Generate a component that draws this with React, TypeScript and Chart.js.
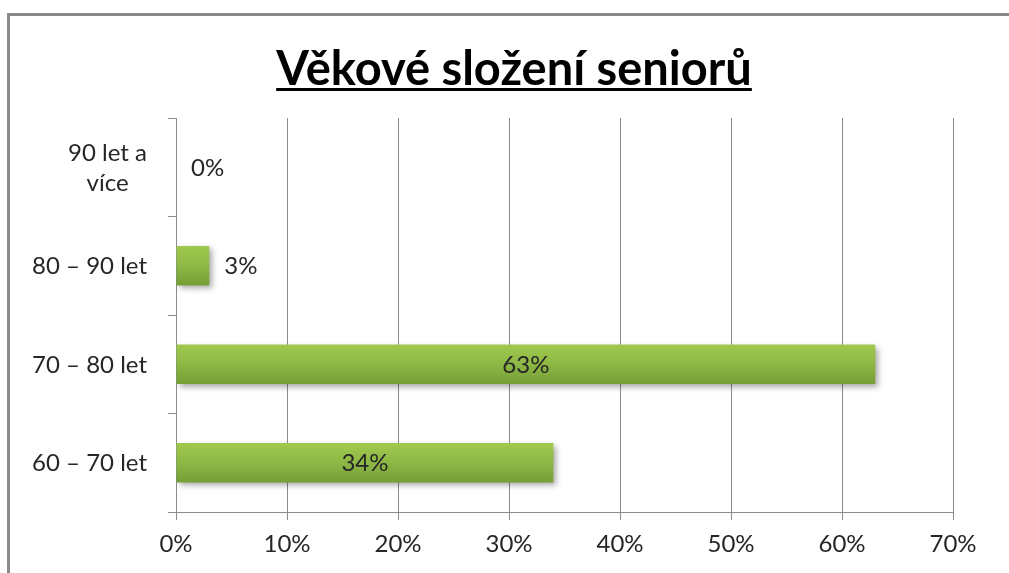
import React, { useEffect, useRef } from "react";
import { Chart, registerables } from "chart.js";

Chart.register(...registerables);

const TITLE = "Věkové složení seniorů";
const categories: (string | string[])[] = [["90 let a", "více"], "80 – 90 let", "70 – 80 let", "60 – 70 let"];
const values = [0, 3, 63, 34];
const xTicks = [0, 10, 20, 30, 40, 50, 60, 70];

const FONT = "Lato, 'Open Sans', sans-serif";
const GRID = "#8c8c8c";
const TEXT = "#262626";

const framePlugin = {
  id: "frame",
  beforeDraw(chart: any) {
    const ctx = chart.ctx;
    ctx.save();
    ctx.fillStyle = "#ffffff";
    ctx.fillRect(0, 0, chart.width, chart.height);
    ctx.strokeStyle = "#8a8a8a";
    ctx.lineWidth = 3;
    ctx.strokeRect(8.5, 14.5, chart.width + 20, chart.height + 20);
    ctx.restore();
  },
  afterDraw(chart: any) {
    const ctx = chart.ctx;
    ctx.save();
    ctx.font = `bold 47px ${FONT}`;
    ctx.fillStyle = "#000000";
    ctx.textAlign = "center";
    ctx.textBaseline = "alphabetic";
    const cx = 514;
    const base = 85;
    ctx.fillText(TITLE, cx, base);
    const w = ctx.measureText(TITLE).width;
    ctx.fillRect(cx - w / 2, base + 3, w, 3);

    // category labels: block right-aligned to the axis gap, lines centred within block
    const y = chart.scales.y;
    ctx.font = `24px ${FONT}`;
    ctx.fillStyle = TEXT;
    ctx.textBaseline = "middle";
    ctx.textAlign = "center";
    const rightEdge = y.right - 29;
    const lh = 30;
    categories.forEach((lab, i) => {
      const lines = Array.isArray(lab) ? lab : [lab];
      const bw = Math.max(...lines.map((l) => ctx.measureText(l).width));
      const cxl = rightEdge - bw / 2;
      const cy = y.getPixelForTick(i);
      lines.forEach((l, j) => {
        ctx.fillText(l, cxl, cy + 1 + (j - (lines.length - 1) / 2) * lh);
      });
    });
    ctx.restore();
  },
};

const shadowPlugin = {
  id: "barShadow",
  beforeDatasetsDraw(chart: any) {
    const ctx = chart.ctx;
    ctx.save();
    ctx.shadowColor = "rgba(0,0,0,0.35)";
    ctx.shadowBlur = 6;
    ctx.shadowOffsetX = 3;
    ctx.shadowOffsetY = 3;
  },
  afterDatasetsDraw(chart: any) {
    chart.ctx.restore();
    const ctx = chart.ctx;
    const meta = chart.getDatasetMeta(0);
    ctx.save();
    ctx.font = `24px ${FONT}`;
    ctx.fillStyle = TEXT;
    ctx.textBaseline = "middle";
    meta.data.forEach((el: any, i: number) => {
      const v = values[i];
      const label = `${v}%`;
      if (v < 10) {
        ctx.textAlign = "left";
        ctx.fillText(label, el.x + 15, el.y + 1);
      } else {
        ctx.textAlign = "center";
        ctx.fillText(label, (el.x + el.base) / 2, el.y + 1);
      }
    });
    ctx.restore();
  },
};

export default function App() {
  const ref = useRef<HTMLCanvasElement | null>(null);
  useEffect(() => {
    if (!ref.current) return;
    const chart = new Chart(ref.current, {
      type: "bar",
      data: {
        labels: categories,
        datasets: [
          {
            data: values,
            barPercentage: 0.4,
            categoryPercentage: 1,
            borderWidth: 0,
            backgroundColor: (c: any) => {
              const ch = c.chart;
              const y = ch.scales?.y;
              if (!y || c.dataIndex === undefined) return "#8ab444";
              const center = y.getPixelForValue(c.dataIndex);
              const band = (y.bottom - y.top) / categories.length;
              const h = band * 0.4;
              if (!isFinite(center) || !isFinite(h) || h <= 0) return "#8ab444";
              const g = ch.ctx.createLinearGradient(0, center - h / 2, 0, center + h / 2);
              g.addColorStop(0, "#a0c94e");
              g.addColorStop(0.5, "#8db845");
              g.addColorStop(1, "#759e36");
              return g;
            },
          },
        ],
      },
      options: {
        indexAxis: "y",
        animation: false,
        responsive: false,
        maintainAspectRatio: false,
        layout: { padding: { top: 118, right: 56, left: 0, bottom: 0 } },
        plugins: {
          legend: { display: false },
          title: { display: false },
          tooltip: { enabled: false },
        },
        scales: {
          x: {
            min: 0,
            max: 70,
            afterBuildTicks: (s: any) => {
              s.ticks = xTicks.map((v) => ({ value: v }));
            },
            afterFit: (s: any) => {
              s.height = 61;
            },
            grid: { color: GRID, lineWidth: 1, tickLength: 8, drawTicks: true },
            border: { color: GRID, width: 1 },
            ticks: {
              color: TEXT,
              font: { family: FONT, size: 24 },
              padding: 10,
              maxRotation: 0,
              callback: (v: any) => `${v}%`,
            },
          },
          y: {
            afterFit: (s: any) => {
              s.width = 176;
            },
            grid: { drawOnChartArea: false, color: GRID, tickLength: 8, offset: true },
            border: { color: GRID, width: 1 },
            ticks: {
              display: false,
              font: { family: FONT, size: 24, lineHeight: 1.25 },
            },
          },
        },
      },
      plugins: [framePlugin, shadowPlugin],
    } as any);
    return () => chart.destroy();
  }, []);
  return (
    <div style={{ position: "fixed", left: 0, top: 0, width: 1009, height: 573 }}>
      <canvas ref={ref} width={1009} height={573} style={{ width: 1009, height: 573, display: "block" }} />
    </div>
  );
}
